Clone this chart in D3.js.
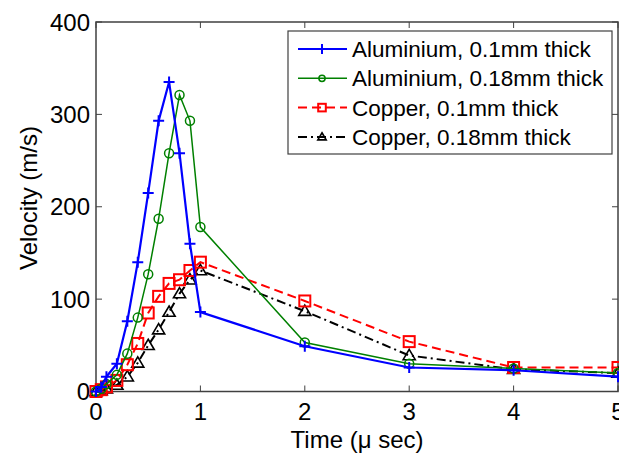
<!DOCTYPE html>
<html>
  <head>
    <meta charset="utf-8" />
    <title>Velocity vs time</title>
    <script src="https://d3js.org/d3.v7.min.js"></script>
    <style>
      body { margin: 0; background: #fff; }
      svg { display: block; font-family: "Liberation Sans", Arial, sans-serif; }
    </style>
  </head>
  <body>
    <div id="chart"></div>

    <script>
      // Data: time in micro seconds, velocity in m/s.
      const seriesNames = [
        "Aluminium, 0.1mm thick",
        "Aluminium, 0.18mm thick",
        "Copper, 0.1mm thick",
        "Copper, 0.18mm thick"
      ];
      const alu01Time = [0, 0.05, 0.1, 0.2, 0.3, 0.4, 0.5, 0.6, 0.7, 0.8, 0.9, 1, 2, 3, 4, 5];
      const alu01Vel  = [0, 5, 16, 30, 76, 140, 215, 293, 335, 258, 160, 86, 49, 26, 23, 16];
      const alu018Time = [0, 0.05, 0.1, 0.2, 0.3, 0.4, 0.5, 0.6, 0.7, 0.8, 0.9, 1, 2, 3, 4, 5];
      const alu018Vel  = [0, 3, 8, 18, 41, 80, 127, 187, 258, 321, 293, 178, 53, 30, 25, 20];
      const cu01Time = [0, 0.05, 0.1, 0.2, 0.3, 0.4, 0.5, 0.6, 0.7, 0.8, 0.9, 1, 2, 3, 4, 5];
      const cu01Vel  = [0, 2, 5, 12, 29, 52, 85, 103, 117, 121, 131, 140, 98, 54, 26, 26];
      const cu018Time = [0, 0.05, 0.1, 0.2, 0.3, 0.4, 0.5, 0.6, 0.7, 0.8, 0.9, 1, 2, 3, 4, 5];
      const cu018Vel  = [0, 1, 3, 7, 16, 31, 50, 67, 86, 106, 121, 131, 87, 39, 24, 20];
      const xTicks = [0, 1, 2, 3, 4, 5];
      const yTicks = [0, 100, 200, 300, 400];

      const width = 619, height = 455;
      const m = { left: 96, right: 618, top: 22, bottom: 391.5 };

      const svg = d3.select("#chart").append("svg")
        .attr("width", width).attr("height", height);

      const x = d3.scaleLinear().domain([0, 5]).range([m.left, m.right]);
      const y = d3.scaleLinear().domain([0, 400]).range([m.bottom, m.top]);

      const series = [
        { name: seriesNames[0], t: alu01Time, v: alu01Vel, color: "#0000ff", width: 2.2, dash: null, marker: "plus" },
        { name: seriesNames[1], t: alu018Time, v: alu018Vel, color: "#008000", width: 1.5, dash: null, marker: "circle" },
        { name: seriesNames[2], t: cu01Time, v: cu01Vel, color: "#ff0000", width: 2, dash: "9,5", marker: "square" },
        { name: seriesNames[3], t: cu018Time, v: cu018Vel, color: "#000000", width: 2, dash: "9,4,2,4", marker: "triangle" }
      ];

      function drawMarker(g, kind, color, cx, cy, s) {
        if (kind === "plus") {
          g.append("path")
            .attr("d", `M${cx - s},${cy}H${cx + s}M${cx},${cy - s}V${cy + s}`)
            .attr("stroke", color).attr("stroke-width", 2).attr("fill", "none");
        } else if (kind === "circle") {
          g.append("circle").attr("cx", cx).attr("cy", cy).attr("r", s * 0.82)
            .attr("stroke", color).attr("stroke-width", 1.5).attr("fill", "none");
        } else if (kind === "square") {
          g.append("rect").attr("x", cx - s).attr("y", cy - s)
            .attr("width", 2 * s).attr("height", 2 * s)
            .attr("stroke", color).attr("stroke-width", 2).attr("fill", "none");
        } else {
          const r = s * 1.1;
          g.append("path")
            .attr("d", `M${cx},${cy - r}L${cx + r},${cy + r * 0.7}L${cx - r},${cy + r * 0.7}Z`)
            .attr("stroke", color).attr("stroke-width", 1.6).attr("fill", "none");
        }
      }

      // axes box with inward ticks (top and right too)
      const axis = svg.append("g");
      axis.append("rect")
        .attr("x", m.left).attr("y", m.top)
        .attr("width", m.right - m.left).attr("height", m.bottom - m.top)
        .attr("fill", "none").attr("stroke", "#404040").attr("stroke-width", 1.5);

      xTicks.forEach(t => {
        axis.append("path")
          .attr("d", `M${x(t)},${m.bottom}v-6M${x(t)},${m.top}v6`)
          .attr("stroke", "#404040").attr("stroke-width", 1);
        svg.append("text").attr("x", x(t)).attr("y", 420)
          .attr("text-anchor", "middle").attr("font-size", 24).text(t);
      });
      yTicks.forEach(v => {
        axis.append("path")
          .attr("d", `M${m.left},${y(v)}h6M${m.right},${y(v)}h-6`)
          .attr("stroke", "#404040").attr("stroke-width", 1);
        svg.append("text").attr("x", 90).attr("y", y(v) + 8.5)
          .attr("text-anchor", "end").attr("font-size", 24).text(v);
      });

      svg.append("text").attr("x", x(2.5)).attr("y", 448)
        .attr("text-anchor", "middle").attr("font-size", 24).text("Time (\u03bc sec)");
      svg.append("text")
        .attr("transform", `translate(37,198) rotate(-90)`)
        .attr("text-anchor", "middle").attr("font-size", 24).text("Velocity (m/s)");

      const line = d3.line().x(d => x(d[0])).y(d => y(d[1]));
      const plot = svg.append("g");

      series.slice().reverse().forEach(s => {
        const pts = s.t.map((t, i) => [t, s.v[i]]);
        plot.append("path").datum(pts)
          .attr("d", line)
          .attr("fill", "none")
          .attr("stroke", s.color)
          .attr("stroke-width", s.width)
          .attr("stroke-dasharray", s.dash);
        const mg = plot.append("g");
        pts.forEach(p => drawMarker(mg, s.marker, s.color, x(p[0]), y(p[1]), 5.5));
      });

      // legend
      const lg = svg.append("g");
      lg.append("rect").attr("x", 288).attr("y", 31).attr("width", 324).attr("height", 123)
        .attr("fill", "#fff").attr("stroke", "#404040").attr("stroke-width", 1.2);
      series.forEach((s, i) => {
        const cy = 49 + i * 29.3;
        lg.append("line").attr("x1", 298).attr("x2", 347).attr("y1", cy).attr("y2", cy)
          .attr("stroke", s.color).attr("stroke-width", s.width)
          .attr("stroke-dasharray", s.dash);
        drawMarker(lg, s.marker, s.color, 322, cy, s.marker === "plus" ? 5 : 3.8);
        lg.append("text").attr("x", 352).attr("y", cy + 8)
          .attr("font-size", 22.5).text(s.name);
      });
    </script>
  </body>
</html>
